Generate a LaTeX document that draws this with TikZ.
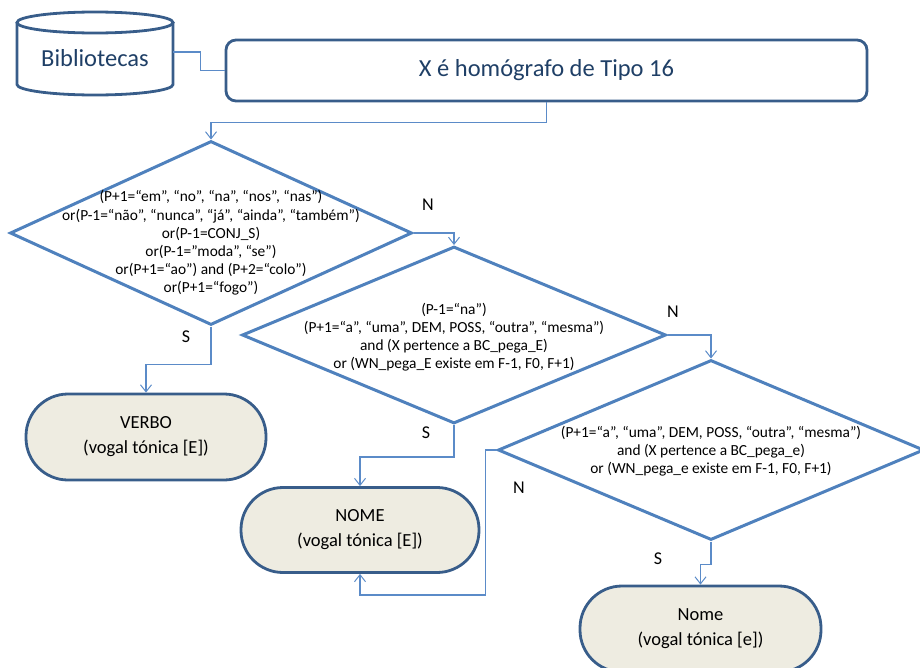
\documentclass[tikz,border=0pt]{standalone}
\usepackage{fontspec}
\setmainfont{Carlito}
\usetikzlibrary{shapes.geometric,arrows.meta}
\definecolor{darkline}{HTML}{385D8A}
\definecolor{midblue}{HTML}{4F81BD}
\definecolor{lineblue}{HTML}{5B8BC8}
\definecolor{termfill}{HTML}{EEECE1}
\definecolor{titletext}{HTML}{1F3F66}
\tikzset{
  dia/.style={diamond, draw=midblue, line width=3pt, inner sep=0pt},
  diatext/.style={align=center, font=\fontsize{15.4}{18.2}\selectfont, inner sep=0pt},
  term/.style={rectangle, draw=darkline, fill=termfill, line width=2.8pt, rounded corners=42pt, align=center, font=\fontsize{18.5}{25}\selectfont},
  conn/.style={draw=lineblue, line width=1.3pt, -{Straight Barb[length=7pt,width=11pt,line width=1pt]}},
  plainconn/.style={draw=lineblue, line width=1.3pt},
  lbl/.style={font=\fontsize{18}{20}\selectfont, inner sep=0pt}
}
\begin{document}
\begin{tikzpicture}[x=1pt,y=-1pt]
\useasboundingbox (0,0) rectangle (920,667);
% cylinder
\draw[darkline, line width=2.8pt] (95,22.5) ellipse [x radius=78pt, y radius=10.5pt];
\draw[darkline, line width=2.8pt] (17,22.5) -- (17,84.5) arc[start angle=180, end angle=360, x radius=78pt, y radius=10.5pt] -- (173,22.5);
\node[minimum width=156pt, minimum height=60pt, inner sep=0pt] (bib) at (95,52) {};
\node[text=titletext, font=\fontsize{24.5}{28}\selectfont] (bibtext) at (95,58) {Bibliotecas};
% title rectangle
\node[draw=darkline, line width=2.8pt, rounded corners=10pt, minimum width=641pt, minimum height=61pt, text=titletext, font=\fontsize{24.5}{28}\selectfont] (rect) at (546.5,70.5) {X é homógrafo de Tipo 16};
% diamonds
\node[dia, minimum width=402pt, minimum height=184pt] (d1) at (211,233) {};
\node[diatext] (d1t) at (211,243) {(P+1=“em”, “no”, “na”, “nos”, “nas”)\\or(P-1=“não”, “nunca”, “já”, “ainda”, “também”)\\or(P-1=CONJ\_S)\\or(P-1=”moda”, “se”)\\or(P+1=“ao”) and (P+2=“colo”)\\or(P+1=“fogo”)};
\node[dia, minimum width=424pt, minimum height=177pt] (d2) at (454,335) {};
\node[diatext] (d2t) at (454,337) {(P-1=“na”)\\(P+1=“a”, “uma”, DEM, POSS, “outra”, “mesma”)\\and (X pertence a BC\_pega\_E)\\or (WN\_pega\_E existe em F-1, F0, F+1)};
\node[dia, minimum width=426pt, minimum height=180pt] (d3) at (711,450) {};
\node[diatext] (d3t) at (711,451) {(P+1=“a”, “uma”, DEM, POSS, “outra”, “mesma”)\\and (X pertence a BC\_pega\_e)\\or (WN\_pega\_e existe em F-1, F0, F+1)};
% terminals
\node[term, minimum width=240pt, minimum height=86pt] (verbo) at (146,437) {VERBO\\(vogal tónica [E])};
\node[term, minimum width=238pt, minimum height=85pt] (nomeE) at (360,530) {NOME\\(vogal tónica [E])};
\node[term, minimum width=241pt, minimum height=86pt] (nomee) at (700.5,629) {Nome\\(vogal tónica [e])};
% connectors
\draw[plainconn] (bib.east) -- ++(27,0) |- (rect.west);
\draw[conn] (rect.south) -- ++(0,20) -| (d1.north);
\draw[conn] (d1.east) -| (d2.north);
\draw[conn] (d2.east) -| (d3.north);
\draw[conn] (d1.south) -- ++(0,38) -| (verbo.north);
\draw[conn] (d2.south) -- ++(0,32) -| (nomeE.north);
\draw[conn] (d3.south) -- ++(0,23) -| (nomee.north);
\draw[conn] (d3.west) -| ++(-11,145) -| (nomeE.south);
% labels
\node[lbl] (n1) at (428,205) {N};
\node[lbl] (s1) at (186,337) {S};
\node[lbl] (n2) at (673,312) {N};
\node[lbl] (s2) at (426,433) {S};
\node[lbl] (n3) at (519,488) {N};
\node[lbl] (s3) at (658,559) {S};
\end{tikzpicture}
\end{document}
